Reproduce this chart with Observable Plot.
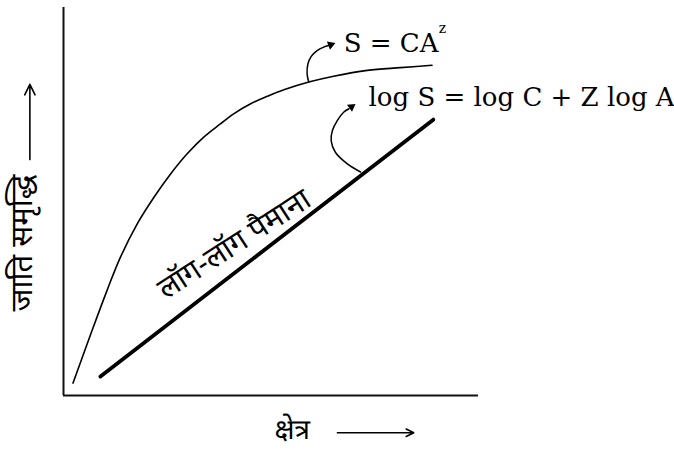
<!DOCTYPE html>
<html><head><meta charset="utf-8">
<script src="https://cdn.jsdelivr.net/npm/d3@7"></script>
<script src="https://cdn.jsdelivr.net/npm/@observablehq/plot@0.6"></script>
<style>html,body{margin:0;padding:0;background:#fff}</style>
</head><body><div id="chart"></div>
<script>
// Species–area curve S = CA^z (arbitrary units: area on x, species richness on y)
const curveArea     = [0.23, 0.69, 1.05, 1.37, 1.78, 2.18, 2.58, 2.98, 3.38, 3.78, 4.10, 4.51, 4.91, 5.31, 5.91, 6.51, 7.32, 8.12, 8.88];
const curveRichness = [0.32, 1.68, 2.71, 3.56, 4.43, 5.11, 5.71, 6.23, 6.66, 7.00, 7.26, 7.52, 7.71, 7.88, 8.08, 8.23, 8.38, 8.45, 8.51];
// log-log scale straight line
const logArea     = [0.89, 8.91];
const logRichness = [0.49, 7.11];
// curved pointer arrows
const ptr1Area     = [5.91, 5.87, 5.89, 5.97, 6.11, 6.27, 6.39];
const ptr1Richness = [8.08, 8.29, 8.55, 8.74, 8.89, 8.98, 9.02];
const ptr2Area     = [7.16, 6.84, 6.55, 6.45, 6.48, 6.60, 6.75, 6.88];
const ptr2Richness = [5.76, 5.97, 6.27, 6.57, 6.83, 7.09, 7.30, 7.39];
const headArea     = [6.44, 6.94];
const headRichness = [9.04, 7.44];
const headAngle    = [69, 54];
// labels
const eqPower   = "S = CA";
const eqPowerSup = "z";
const eqLog     = "log S = log C + Z log A";
const lineLabel = "लॉग-लॉग पैमाना";
const yLabel    = "जाति समृद्धि";
const xLabel    = "क्षेत्र";

const pts = (xs, ys) => xs.map((x, i) => ({x, y: ys[i]}));
const deva = "'Noto Sans Devanagari', 'Lohit Devanagari', 'Noto Sans', sans-serif";
const serif = "DejaVu Serif";

const chart = Plot.plot({
  width: 674, height: 450,
  marginLeft: 63, marginRight: 196, marginTop: 7, marginBottom: 55,
  x: {domain: [0, 10], axis: null},
  y: {domain: [0, 10], axis: null},
  style: {background: "#fff"},
  marks: [
    Plot.ruleX([0], {y1: 0, y2: 10, stroke: "#111", strokeWidth: 2}),
    Plot.ruleY([0], {x1: 0, x2: 10, stroke: "#111", strokeWidth: 2}),
    Plot.line(pts(curveArea, curveRichness), {x: "x", y: "y", curve: "catmull-rom", stroke: "#000", strokeWidth: 1.6}),
    Plot.line(pts(logArea, logRichness), {x: "x", y: "y", stroke: "#000", strokeWidth: 3.8}),
    Plot.line(pts(ptr1Area, ptr1Richness), {x: "x", y: "y", curve: "catmull-rom", stroke: "#000", strokeWidth: 1.5}),
    Plot.line(pts(ptr2Area, ptr2Richness), {x: "x", y: "y", curve: "catmull-rom", stroke: "#000", strokeWidth: 1.5}),
    Plot.dot(headArea.map((x, i) => ({x, y: headRichness[i], r: headAngle[i]})), {x: "x", y: "y", rotate: "r", symbol: "triangle", r: 3.2, fill: "#000", stroke: null}),
    // axis direction arrows
    Plot.arrow([{x1: -0.81, y1: 6.08, x2: -0.81, y2: 8.02}], {x1: "x1", y1: "y1", x2: "x2", y2: "y2", stroke: "#000", strokeWidth: 1.6, headLength: 11, headAngle: 52}),
    Plot.arrow([{x1: 6.60, y1: -0.96, x2: 8.44, y2: -0.96}], {x1: "x1", y1: "y1", x2: "x2", y2: "y2", stroke: "#000", strokeWidth: 1.5, headLength: 8.5, headAngle: 53}),
    // labels
    Plot.text([eqPower], {x: 6.75, y: 8.85, text: d => d, textAnchor: "start", lineAnchor: "bottom", fontSize: 26, fontFamily: serif, fill: "#000"}),
    Plot.text([eqPowerSup], {x: 9.04, y: 9.34, text: d => d, textAnchor: "start", lineAnchor: "bottom", fontSize: 14, fontFamily: serif, fill: "#000"}),
    Plot.text([eqLog], {x: 7.35, y: 7.45, text: d => d, textAnchor: "start", lineAnchor: "bottom", fontSize: 26, fontFamily: serif, fill: "#000"}),
    Plot.text([lineLabel], {x: 4.24, y: 3.69, text: d => d, rotate: -33, textAnchor: "middle", lineAnchor: "bottom", fontSize: 30, fontFamily: deva, fill: "#000"}),
    Plot.text([yLabel], {x: -0.99, y: 3.93, text: d => d, rotate: -90, textAnchor: "middle", lineAnchor: "middle", fontSize: 31, fontFamily: deva, fill: "#000"}),
    Plot.text([xLabel], {x: 5.51, y: -0.88, text: d => d, textAnchor: "middle", lineAnchor: "middle", fontSize: 28, fontFamily: deva, fill: "#000"})
  ]
});
document.getElementById("chart").appendChild(chart);
</script>
</body></html>
